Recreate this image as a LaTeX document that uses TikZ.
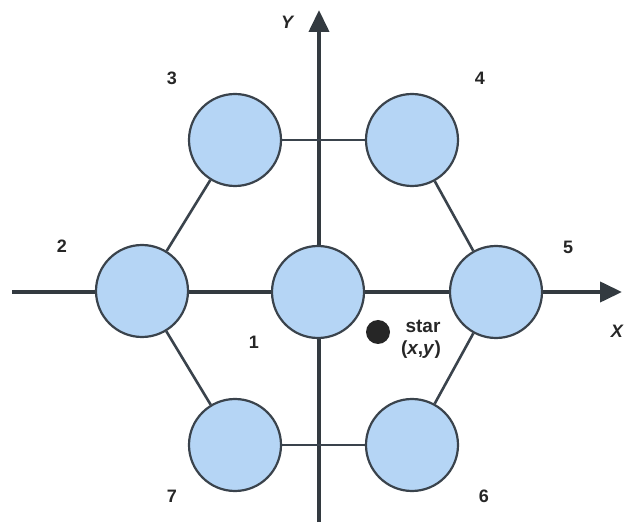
\documentclass[tikz,border=0pt]{standalone}
\usepackage{fontspec}
\setmainfont{Liberation Sans}
\usetikzlibrary{arrows.meta}
\definecolor{cfill}{HTML}{B5D5F5}
\definecolor{cline}{HTML}{3A434C}
\definecolor{axisc}{HTML}{333A40}
\begin{document}
\begin{tikzpicture}[x=1pt,y=-1pt,
  ring/.style={circle,draw=cline,line width=2.2pt,fill=cfill,minimum size=92pt,inner sep=0pt},
  edge/.style={draw=cline,line width=2.6pt},
  axis/.style={draw=axisc,line width=4pt,-{Triangle[length=22pt,width=20pt]}},
  lbl/.style={font=\fontsize{18}{20}\selectfont\bfseries,text=black!85}]
\useasboundingbox (0,0) rectangle (624,526);
\coordinate (xl) at (12,292);
\coordinate (xr) at (622,292);
\coordinate (yb) at (319,522);
\coordinate (yt) at (319,10);
\draw[axis] (xl) -- (xr);
\draw[axis] (yb) -- (yt);
\node[ring] (c1) at (318,292) {};
\node[ring] (c2) at (142,291) {};
\node[ring] (c3) at (235,140) {};
\node[ring] (c4) at (412,140) {};
\node[ring] (c5) at (496,292) {};
\node[ring] (c6) at (412,445) {};
\node[ring] (c7) at (235,445) {};
\draw[edge] (c3) -- (c4);
\draw[edge] (c7) -- (c6);
\draw[edge] (c3) -- (c2);
\draw[edge] (c2) -- (c7);
\draw[edge] (c4) -- (c5);
\draw[edge] (c5) -- (c6);
\node[lbl] (l3) at (172,78) {3};
\node[lbl] (l4) at (480,78) {4};
\node[lbl] (l2) at (62,246) {2};
\node[lbl] (l5) at (568,247) {5};
\node[lbl] (l1) at (254,342) {1};
\node[lbl] (l7) at (172,496) {7};
\node[lbl] (l6) at (484,496) {6};
\node[lbl,font=\fontsize{18}{20}\selectfont\bfseries\itshape] (ly) at (287,22) {Y};
\node[lbl,font=\fontsize{18}{20}\selectfont\bfseries\itshape,inner sep=0pt,anchor=east] (lx) at (623,331) {X};
\node[circle,fill=black!85,minimum size=24pt,inner sep=0pt] (star) at (378,332) {};
\node[lbl,font=\fontsize{19}{21}\selectfont\bfseries] (st) at (423,326) {star};
\node[lbl,font=\fontsize{19}{21}\selectfont\bfseries] (sxy) at (421,350) {(\textit{x},\textit{y})};
\end{tikzpicture}
\end{document}
